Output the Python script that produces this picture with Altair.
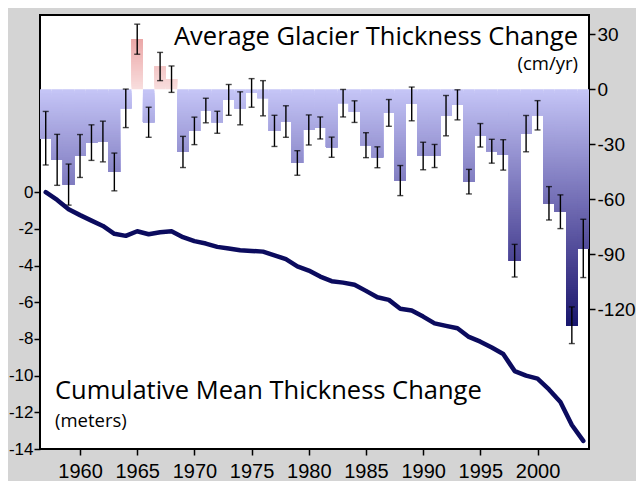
import math
import altair as alt
import pandas as pd

# ---------------- data ----------------
years = list(range(1957, 2005))

# annual average glacier thickness change (cm/yr)
rate_cm = [-26.7, -38.5, -52.0, -36.4, -29.1, -28.5, -45.1, -10.4, 27.3, -18.0,
           12.4, 5.5, -34.2, -22.7, -11.6, -18.0, -5.8, -10.4, -2.0, -4.9,
           -22.7, -17.6, -40.2, -22.2, -21.1, -31.6, -7.6, -12.2, -30.5, -37.1,
           -12.9, -49.8, -8.0, -36.4, -36.4, -14.4, -8.5, -50.4, -25.1, -33.8,
           -35.8, -93.5, -24.2, -14.2, -62.2, -66.8, -128.7, -86.8]

# half-length of the error bars (cm/yr)
err_cm = [14.6, 13.9, 11.2, 11.7, 9.7, 11.1, 10.3, 10.5, 8.2, 8.2,
          7.7, 7.2, 8.5, 7.5, 6.7, 6.0, 8.4, 9.0, 7.8, 9.6,
          8.5, 8.6, 6.7, 8.2, 6.0, 5.5, 7.5, 5.9, 6.8, 5.7,
          7.3, 8.2, 9.2, 7.5, 6.3, 11.0, 8.2, 6.7, 6.4, 6.5,
          8.3, 8.9, 9.9, 8.0, 9.1, 9.2, 10.0, 15.9]

# cumulative mean thickness change (m)
cum_m = [0.0, -0.42, -0.93, -1.25, -1.55, -1.84, -2.27, -2.38, -2.13, -2.29,
         -2.18, -2.13, -2.45, -2.67, -2.80, -2.98, -3.07, -3.16, -3.20, -3.24,
         -3.44, -3.65, -4.04, -4.27, -4.60, -4.85, -4.93, -5.05, -5.38, -5.73,
         -5.87, -6.35, -6.45, -6.78, -7.15, -7.29, -7.42, -7.89, -8.15, -8.47,
         -8.82, -9.75, -10.00, -10.16, -10.75, -11.44, -12.69, -13.56]

x_ticks = [1960, 1965, 1970, 1975, 1980, 1985, 1990, 1995, 2000]
left_ticks = [-14, -12, -10, -8, -6, -4, -2, 0]
right_ticks = [-120, -90, -60, -30, 0, 30]

# ---------------- derived tables ----------------
# each bar is split into 1 cm/yr slices so the fill follows a depth gradient
seg_rows = []
for yr, v in zip(years, rate_cm):
    n = int(math.ceil(abs(v)))
    sgn = -1 if v < 0 else 1
    for k in range(n):
        s = sgn * k
        seg_rows.append({"x0": yr - 0.5, "x1": yr + 0.5, "top": s, "end": v,
                         "shade": s + sgn * 0.5, "order": k})
seg = pd.DataFrame(seg_rows)

err = pd.DataFrame({"year": years,
                    "lo": [v - e for v, e in zip(rate_cm, err_cm)],
                    "hi": [v + e for v, e in zip(rate_cm, err_cm)]})
cum = pd.DataFrame({"year": years, "cum": cum_m})

# ---------------- scales / axes ----------------
FONT = "Liberation Sans"
HYPHEN = "datum.value < 0 ? '-' + abs(datum.value) : '' + datum.value"

x_scale = alt.Scale(domain=[1956.5, 2004.5], nice=False, zero=False)
x_axis = alt.Axis(values=x_ticks, format="d", title=None, domain=False, grid=False,
                  tickColor="black", tickWidth=1.5, tickSize=6, labelPadding=6,
                  labelFont=FONT, labelFontSize=20, labelColor="black")

cm_scale = alt.Scale(domain=[-196.2, 40.5], nice=False, zero=False)
cm_axis = alt.Axis(orient="right", values=right_ticks, title=None, domain=False,
                   grid=False, tickColor="black", tickWidth=1.5, tickSize=6,
                   labelPadding=2, labelFont=FONT, labelFontSize=19,
                   labelColor="black", labelExpr=HYPHEN)

m_scale = alt.Scale(domain=[-14, 9.66], nice=False, zero=False)
m_axis = alt.Axis(orient="left", values=left_ticks, title=None, domain=False,
                  grid=False, tickColor="black", tickWidth=1.5, tickSize=6,
                  labelPadding=1, labelFont=FONT, labelFontSize=17,
                  labelColor="black", labelExpr=HYPHEN)

shade_scale = alt.Scale(domain=[-130, -0.01, 0.01, 30],
                        range=["#16166c", "#c6c6f7", "#f8dede", "#e9a2a2"])

bars = alt.Chart(seg).mark_rect(strokeWidth=0).encode(
    x=alt.X("x0:Q", scale=x_scale, axis=x_axis),
    x2="x1:Q",
    y=alt.Y("top:Q", scale=cm_scale, axis=cm_axis),
    y2="end:Q",
    color=alt.Color("shade:Q", scale=shade_scale, legend=None),
    order=alt.Order("order:Q"),
)

stems = alt.Chart(err).mark_rule(color="black", strokeWidth=1.4).encode(
    x=alt.X("year:Q", scale=x_scale, axis=x_axis),
    y=alt.Y("lo:Q", scale=cm_scale, axis=cm_axis),
    y2="hi:Q",
)
cap_lo = alt.Chart(err).mark_tick(color="black", orient="horizontal", size=6,
                                  thickness=1.4).encode(
    x=alt.X("year:Q", scale=x_scale, axis=x_axis),
    y=alt.Y("lo:Q", scale=cm_scale, axis=cm_axis),
)
cap_hi = alt.Chart(err).mark_tick(color="black", orient="horizontal", size=6,
                                  thickness=1.4).encode(
    x=alt.X("year:Q", scale=x_scale, axis=x_axis),
    y=alt.Y("hi:Q", scale=cm_scale, axis=cm_axis),
)

bar_layer = alt.layer(bars, stems, cap_lo, cap_hi)

line = alt.Chart(cum).mark_line(color="#0b0b5e", strokeWidth=4.5,
                                strokeJoin="round", strokeCap="round").encode(
    x=alt.X("year:Q", scale=x_scale, axis=x_axis),
    y=alt.Y("cum:Q", scale=m_scale, axis=m_axis),
)

TFONT = "Open Sans"
t1 = alt.Chart(pd.DataFrame({"t": ["Average Glacier Thickness Change"]})).mark_text(
    font=TFONT, fontSize=25.5, align="right", baseline="alphabetic", color="black"
).encode(x=alt.value(538), y=alt.value(30), text="t:N")
t2 = alt.Chart(pd.DataFrame({"t": ["(cm/yr)"]})).mark_text(
    font=TFONT, fontSize=18.5, align="right", baseline="alphabetic", color="black"
).encode(x=alt.value(538), y=alt.value(55), text="t:N")
t3 = alt.Chart(pd.DataFrame({"t": ["Cumulative Mean Thickness Change"]})).mark_text(
    font=TFONT, fontSize=25.5, align="left", baseline="alphabetic", color="black"
).encode(x=alt.value(15), y=alt.value(384), text="t:N")
t4 = alt.Chart(pd.DataFrame({"t": ["(meters)"]})).mark_text(
    font=TFONT, fontSize=18.5, align="left", baseline="alphabetic", color="black"
).encode(x=alt.value(15), y=alt.value(412), text="t:N")

chart = alt.layer(bar_layer, line, t1, t2, t3, t4).resolve_scale(
    y="independent"
).properties(
    width=549, height=434,
    autosize=alt.AutoSizeParams(type="none"),
    padding={"left": 32, "top": 7, "right": 47, "bottom": 32},
    background="#d4d4d4",
).configure_view(stroke="black", strokeWidth=2, fill="white")

chart.save("out.html", embed_options={"renderer": "svg", "actions": False})
